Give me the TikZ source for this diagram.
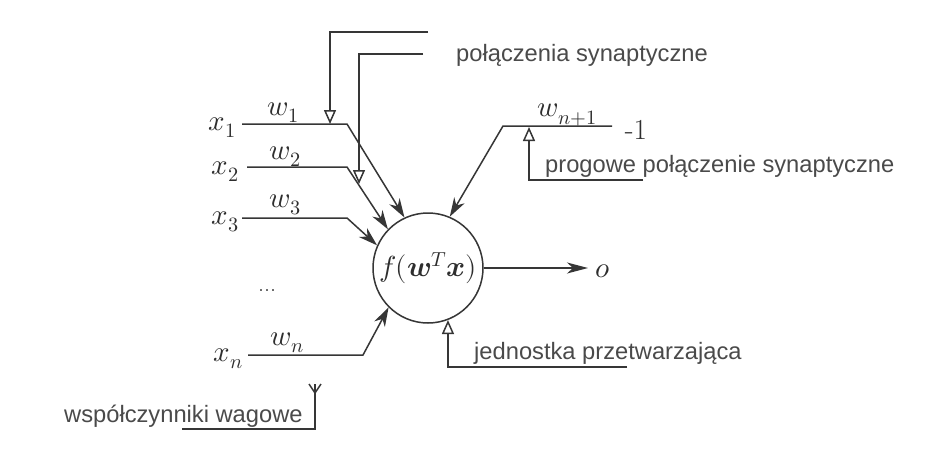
\documentclass[tikz,border=0pt]{standalone}
\usepackage{fontspec}
\usepackage{unicode-math}
\setmathfont{Latin Modern Math}
\setsansfont{Liberation Sans}
\usetikzlibrary{arrows.meta,calc}
\definecolor{linec}{HTML}{363636}
\definecolor{labc}{HTML}{4A4A4A}
\definecolor{mathc}{HTML}{2E2E2E}
\begin{document}
\begin{tikzpicture}[x=1pt,y=-1pt]
\tikzset{
 wire/.style={draw=linec, line width=1.5pt},
 inarrow/.style={wire, -{Stealth[length=19pt,width=12pt,inset=6pt]}},
 hollow/.style={wire, -{Triangle[length=14pt,width=12pt,fill=white]}},
 lbl/.style={font=\fontsize{23.7}{26}\selectfont\sffamily, text=labc, inner sep=0pt},
 mlbl/.style={font=\fontsize{29}{31}\selectfont, text=mathc, inner sep=0pt},
 neuronc/.style={circle, draw=linec, line width=1.5pt, minimum size=110pt, inner sep=0pt, font=\fontsize{29}{31}\selectfont, text=mathc},
}
\fill[white] (0,0) rectangle (928,460);
\useasboundingbox (0,0) rectangle (928,460);

\node[neuronc] (neuron) at (428,268) {$f(\symbfit{w}^T\symbfit{x})$};

% inputs
\node[mlbl, anchor=east] (x1) at (236,128) {$x_1$};
\node[mlbl, anchor=east] (x2) at (239,172) {$x_2$};
\node[mlbl, anchor=east] (x3) at (239,222) {$x_3$};
\node[mlbl, anchor=east] (xn) at (243,359) {$x_n$};
\node[font=\fontsize{24}{26}\selectfont, text=mathc, anchor=base, inner sep=0pt] (dots) at (267,291) {...};

\node[mlbl] (w1) at (283,113) {$w_1$};
\node[mlbl] (w2) at (285,157) {$w_2$};
\node[mlbl] (w3) at (285,205) {$w_3$};
\node[mlbl] (wn) at (287,343) {$w_n$};

\coordinate (s1) at (242,124); \coordinate (k1) at (347,124);
\coordinate (s2) at (247,167); \coordinate (k2) at (347,167);
\coordinate (s3) at (242,218); \coordinate (k3) at (347,218);
\coordinate (sn) at (248,355); \coordinate (kn) at (363,355);
\draw[inarrow] (s1) -- (k1) -- (neuron.115);
\draw[inarrow] (s2) -- (k2) -- (neuron.136);
\draw[inarrow] (s3) -- (k3) -- (neuron.156);
\draw[inarrow] (sn) -- (kn) -- (neuron.225);

% synaptic connections
\coordinate (b1) at (428,32); \coordinate (t1) at (330,124);
\coordinate (b2) at (423,54); \coordinate (t2) at (359,184);
\draw[hollow] (b1) -| (t1);
\draw[hollow] (b2) -| (t2);
\node[lbl, anchor=west] (syn) at (456,55) {połączenia synaptyczne};

% bias
\coordinate (kb) at (503,126); \coordinate (sb) at (612,126);
\draw[inarrow] (sb) -- (kb) -- (neuron.67);
\node[mlbl] (wn1) at (567,115) {$w_{n+1}$};
\node[mlbl, font=\fontsize{29}{31}\selectfont\rmfamily] (m1) at (636,130) {-1};
\coordinate (pb) at (643,180); \coordinate (tb) at (529,127);
\draw[hollow] (pb) -| (tb);
\node[lbl, anchor=west] (prog) at (545,166) {progowe połączenie synaptyczne};

% output
\node[mlbl] (o) at (603,271) {$o$};
\coordinate (ot) at (588,268);
\draw[wire, -{Stealth[length=21pt,width=11pt,inset=6pt]}] (neuron.east) -- (ot);

% processing unit
\coordinate (jb) at (627,367);
\draw[hollow] (jb) -| (neuron.-69);
\node[lbl, anchor=west] (jed) at (474,353) {jednostka przetwarzająca};

% weights
\coordinate (wb) at (182,429); \coordinate (wt) at (315,384);
\draw[wire] (wb) -| (wt);
\draw[wire] ($(wt)+(-6,0)$) -- ($(wt)+(0,9)$) -- ($(wt)+(6,0)$);
\node[lbl, anchor=west] (wsp) at (64,416) {współczynniki wagowe};
\end{tikzpicture}
\end{document}
